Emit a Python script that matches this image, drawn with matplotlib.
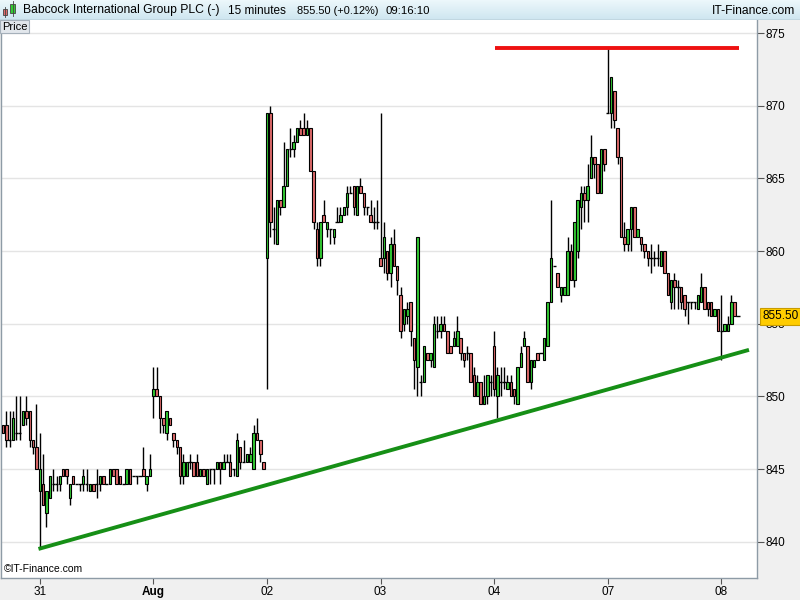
import matplotlib
matplotlib.use("Agg")
import matplotlib.pyplot as plt
import numpy as np
from matplotlib.patches import Rectangle

plt.rcParams['font.family'] = ['Liberation Sans', 'DejaVu Sans']

# 15 minute bars, Jul 28 (tail) .. Aug 8
opens = [848, 848, 847, 847, 847.5, 847.5, 848, 849, 849, 847, 846.5,
         843.5, 844, 842, 843, 844, 844, 844, 845, 845, 843, 844.5, 844, 844, 844, 844, 843.5, 844,
         844, 844, 844.5, 844, 844, 845, 845, 844.5, 844, 844, 845, 844.5, 844.5, 844.5, 845, 844, 844.5,
         850, 850.5, 850, 848.5, 847.5, 848.5, 847.5, 847, 846.5, 844.5, 844.5, 845.5, 845.5, 845.5, 844.5,
         845, 844, 845, 845, 845, 845.5, 845, 845.5, 845.5, 845, 844.5, 846.5, 845.5, 845.5, 845.5, 845,
         847.5, 847, 845.5,
         859.5, 869.5, 861.5, 860.5, 863.5, 863, 864.5, 867, 867, 867.5, 868.5, 868.5, 868, 868.5, 865.5,
         861.5, 859.5, 862.5, 861.5, 861.5, 861, 862, 862, 862.5, 863, 864, 864.5, 862.5, 864.5, 864, 863,
         862.5, 862, 862,
         859.5, 859.5, 860, 858.5, 860.5, 859, 857, 855, 855.5, 856.5, 854, 852, 851, 851, 853, 852.5, 852,
         854.5, 854.5, 855, 854.5, 853.5, 853.5, 853.5, 854, 853, 853, 853, 851.5, 850, 851, 849.5, 850, 851,
         853.5, 850, 851, 851, 850.5, 851, 850.5, 849.5, 852, 853.5, 853.5, 851, 852, 853, 853, 852.5,
         853.5, 856.5, 859, 858.5, 857, 857, 857, 860, 858, 860, 863, 864, 863.5, 865, 866.5, 866, 864, 867,
         869.5, 869.5, 871, 868.5, 866.5, 861, 860.5, 861.5, 863, 861, 861, 860.5, 860, 859.5, 859.5, 859.5,
         859, 860, 858.5, 856.5, 858, 857.5, 857.5, 857, 856.5, 856.5, 856.5, 856, 856.5, 857.5, 856.5,
         856.5, 855.5, 856,
         854.5, 854.5, 854.5, 855, 856.5, 855.5]
closes = [847.5, 847, 847, 848.5, 847.5, 847.5, 849, 848.5, 847, 846.5, 845,
          845, 842.5, 843.5, 844.5, 844, 844, 844.5, 844.5, 844.5, 844, 844, 844, 844, 844.5, 844, 844, 843.5,
          844, 844.5, 844, 844, 845, 844.5, 844, 844, 844, 845, 844, 844.5, 844.5, 844.5, 844.5, 844.5, 845,
          850.5, 850, 848.5, 848, 849, 848, 847, 846.5, 844.5, 845.5, 845.5, 845.5, 844.5, 844.5, 845,
          844.5, 845, 845, 845, 845.5, 845, 845.5, 845.5, 844.5, 845, 847, 845.5, 845.5, 846, 846, 847.5,
          847, 846, 845,
          869.5, 862, 861.5, 863.5, 863, 864.5, 867, 867, 867.5, 868.5, 868, 868, 868.5, 865.5, 862,
          859.5, 862, 862, 862, 861.5, 861.5, 862, 862.5, 863, 864, 864, 863, 864.5, 864, 863, 863,
          862, 862, 862,
          859, 861, 858.5, 860.5, 859, 858, 854.5, 856, 856, 854.5, 852.5, 861, 851, 853.5, 852.5, 853, 855,
          854.5, 855, 854.5, 853, 853, 854, 854.5, 853, 852.5, 853, 851, 850, 851, 849.5, 850, 851.5, 851,
          850.5, 851.5, 851, 851, 851, 850, 850, 852, 853, 854, 851, 852.5, 852.5, 852.5, 853, 854,
          856.5, 859.5, 859, 857.5, 857.5, 857.5, 860, 858, 862, 863.5, 864, 863.5, 864.5, 866.5, 866, 864,
          867, 866,
          869.5, 872, 869, 866.5, 861, 860.5, 861.5, 863, 861, 861.5, 860.5, 860, 859.5, 859.5, 859.5, 859.5,
          860, 858.5, 857, 858, 857.5, 857.5, 856.5, 856, 856.5, 856.5, 856.5, 857, 857.5, 856, 856,
          855.5, 856, 854.5,
          854.5, 855, 855, 856.5, 855.5, 855.5]
highs = [848, 849, 849, 849, 850, 850, 849, 850, 849, 847, 849.5,
         847.5, 846, 843.5, 844.5, 845, 844.5, 844.5, 845, 845, 844, 844.5, 844, 844, 845, 845, 844, 844,
         845, 844.5, 844.5, 844, 845, 845, 845, 844.5, 844, 845, 845, 844.5, 844.5, 844.5, 846.5, 844.5, 846,
         852, 852, 850, 848.5, 849, 848.5, 847.5, 847, 846.5, 846, 845.5, 846, 845.5, 846, 845,
         845, 845, 845, 845, 845.5, 845.5, 846, 846, 846, 845, 847.5, 846.5, 847, 846, 846.5, 848,
         848.5, 847, 845.5,
         869.5, 870, 863, 863.5, 863.5, 867.5, 867, 868.5, 868, 868.5, 869, 869.5, 869, 868.5, 865.5,
         862, 862, 863.5, 862, 861.5, 861.5, 863, 863, 863, 864.5, 864.5, 864.5, 864.5, 865, 864, 863,
         863.5, 863, 863.5,
         869.5, 862, 860, 861, 861.5, 859, 857.5, 856, 856.5, 856.5, 854, 861, 851.5, 853.5, 853, 853, 855.5,
         855.5, 855.5, 855.5, 854.5, 853.5, 854.5, 855.5, 854, 853, 853.5, 853, 852, 851.5, 851, 851.5,
         851.5, 851.5,
         854.5, 852, 852, 852, 851.5, 851.5, 850.5, 852, 853.5, 854.5, 853.5, 852.5, 852.5, 853, 853, 854,
         856.5, 863.5, 859, 858.5, 857.5, 857.5, 861, 860.5, 862, 863.5, 864.5, 864.5, 866, 868, 866.5, 866,
         867, 867,
         874, 872, 871, 868.5, 866.5, 862, 861.5, 863, 863, 861.5, 861, 860.5, 860, 860.5, 860, 860.5,
         860, 860, 858.5, 858, 858.5, 858, 857.5, 857, 856.5, 856.5, 856.5, 857, 858.5, 857.5, 856.5,
         856.5, 856, 856,
         857, 855, 855.5, 857, 856.5, 855.5]
lows = [847.5, 846.5, 846.5, 847, 847, 847, 848, 848, 846.5, 846, 845,
        839.5, 842.5, 841, 843, 843.5, 843.5, 843.5, 844.5, 844, 842.5, 844, 844, 843.5, 843.5, 843.5, 843.5,
        843.5, 843, 843.5, 844, 844, 844, 844.5, 844, 844, 844, 844, 844, 844.5, 844, 844.5, 844.5, 843.5,
        844.5,
        848.5, 850, 847.5, 847.5, 847, 848, 846.5, 846, 844, 844, 844.5, 845, 844.5, 844.5, 844.5,
        844.5, 844, 844, 844, 845, 844, 845, 845.5, 844.5, 844.5, 844.5, 845, 845.5, 845.5, 845.5, 845,
        847, 845.5, 845,
        850.5, 861, 860.5, 860.5, 862.5, 863, 864.5, 866.5, 866.5, 867.5, 868, 868, 868, 865.5, 861.5,
        859, 859, 862, 861, 860.5, 860.5, 862, 862, 862.5, 862.5, 864, 862.5, 862.5, 864, 862.5, 862.5,
        862, 861.5, 861.5,
        859, 858.5, 858, 857.5, 859, 857, 854, 854.5, 855, 853.5, 850.5, 850, 850, 851, 852.5, 852, 852,
        854, 854, 854.5, 853, 853, 853.5, 853.5, 852.5, 852, 852.5, 851, 850, 850, 849.5, 849.5, 849.5,
        850,
        850, 848.5, 850, 850.5, 850.5, 850, 849.5, 849.5, 852, 853.5, 851, 850.5, 852, 852.5, 853, 852.5,
        853.5, 856.5, 859, 857.5, 856.5, 857, 857, 858, 857.5, 859.5, 861.5, 862, 862, 865, 865, 864,
        864, 865.5,
        869.5, 868.5, 868.5, 866, 861, 860, 860, 860, 861, 861, 860, 859.5, 859, 858.5, 859, 859,
        859, 858.5, 857, 856, 856, 856, 856, 855.5, 855, 856, 856, 856, 856.5, 856, 855.5,
        855.5, 855.5, 854.5,
        852.5, 854.5, 854.5, 855, 855.5, 855.5]

day_starts = [11, 45, 79, 113, 147, 181, 215]
day_labels = ['31', 'Aug', '02', '03', '04', '07', '08']
price_ticks = [840, 845, 850, 855, 860, 865, 870, 875]

# drawn trend lines (bar index, price)
support_x = [10.6, 223.3]
support_y = [839.5, 853.2]
resist_x = [147.3, 220.3]
resist_y = [874.0, 874.0]

last_price = 855.50

GREEN = '#33cc33'
RED = '#e06a6a'
PANEL = '#f0f0f0'
EDGE = '#8e9ba6'

fig = plt.figure(figsize=(8, 6), dpi=100)
fig.patch.set_facecolor(PANEL)

ax = fig.add_axes([1 / 800, 22 / 600, 756 / 800, 558 / 600])
ax.set_facecolor('white')

o = np.array(opens)
c = np.array(closes)
h = np.maximum.reduce([np.array(highs), o, c])
l = np.minimum.reduce([np.array(lows), o, c])
idx = np.arange(len(c))

# wicks
ax.vlines(idx, l, h, color='black', lw=1.0, zorder=3)
# bodies
up = c > o
dn = c < o
eq = c == o
ax.bar(idx[up], (c - o)[up], bottom=o[up], width=0.75, color=GREEN,
       edgecolor='black', linewidth=0.8, zorder=4)
ax.bar(idx[dn], (o - c)[dn], bottom=c[dn], width=0.75, color=RED,
       edgecolor='black', linewidth=0.8, zorder=4)
ax.hlines(c[eq], idx[eq] - 0.5, idx[eq] + 0.5, color='black', lw=1.0, zorder=4)

# trend lines
ax.plot(support_x, support_y, color='#168f16', lw=2.8, solid_capstyle='butt', zorder=5)
ax.plot(resist_x, resist_y, color='#ee1111', lw=2.8, solid_capstyle='butt', zorder=5)

ax.set_xlim(-0.62, 225.7)
ax.set_ylim(837.5, 875.9)

ax.set_yticks(price_ticks)
ax.yaxis.tick_right()
ax.tick_params(axis='y', direction='out', length=5, width=0.8, colors='#555555',
               labelcolor='black', labelsize=8.5, pad=1)
ax.grid(axis='y', color='#e4e4e4', lw=1.0, zorder=0)

ax.set_xticks(day_starts)
ax.set_xticklabels(day_labels)
ax.tick_params(axis='x', direction='out', length=4, width=0.8, colors='#555555',
               labelcolor='black', labelsize=8.5, pad=2)
for lab in ax.get_xticklabels():
    if lab.get_text() == 'Aug':
        lab.set_fontweight('bold')

for side in ['left', 'right', 'bottom']:
    ax.spines[side].set_color(EDGE)
    ax.spines[side].set_linewidth(1.0)
ax.spines['top'].set_visible(False)

# last price tag (covers the 855 tick label, as in the source)
ax.annotate(f'{last_price:.2f}', xy=(1.0, last_price), xycoords=('axes fraction', 'data'),
            xytext=(4, 0), textcoords='offset points', ha='left', va='center',
            fontsize=8.5, color='black', zorder=10, annotation_clip=False,
            bbox=dict(boxstyle='square,pad=0.18', fc='#ffcc00', ec='#c89b00', lw=0.8))

# copyright
ax.text(3 / 756, 4 / 558, '\u00a9IT-Finance.com', transform=ax.transAxes,
        fontsize=7.5, color='black', ha='left', va='bottom')

# "Price" tab
fig.patches.append(Rectangle((0, 567 / 600), 29 / 800, 13 / 600, transform=fig.transFigure,
                             fc='#e2e7ec', ec='#a5b0ba', lw=0.8, zorder=5))
fig.text(2 / 800, 573.5 / 600, 'Price', fontsize=8, ha='left', va='center', zorder=6)

# header bar
hax = fig.add_axes([0, 580 / 600, 1, 20 / 600])
grad = np.linspace(0, 1, 20).reshape(-1, 1)
top_col = np.array([236, 247, 251]) / 255
bot_col = np.array([206, 230, 240]) / 255
img = top_col + (bot_col - top_col) * grad[:, :, None]
hax.imshow(img, aspect='auto', extent=(0, 800, 20, 0))
hax.set_xlim(0, 800)
hax.set_ylim(20, 0)
hax.axis('off')
hax.axhline(19.5, color=EDGE, lw=1)
# small candle icon
hax.add_patch(Rectangle((3, 9), 4, 6, fc=RED, ec='#444444', lw=0.6))
hax.plot([5, 5], [7, 17], color='#444444', lw=0.6)
hax.add_patch(Rectangle((10, 4), 5, 9, fc=GREEN, ec='#444444', lw=0.6))
hax.plot([12.5, 12.5], [1, 16], color='#444444', lw=0.6)

hax.text(23, 10.5, 'Babcock International Group PLC (-)', fontsize=8.7, va='center', ha='left')
hax.text(228, 10.5, '15 minutes', fontsize=8.5, va='center', ha='left')
hax.text(297, 10.5, '855.50 (+0.12%)', fontsize=7.9, va='center', ha='left')
hax.text(386, 10.5, '09:16:10', fontsize=8.2, va='center', ha='left')
hax.text(795, 10.5, 'IT-Finance.com', fontsize=8.7, va='center', ha='right')

fig.savefig('out.png', dpi=100, facecolor=fig.get_facecolor())
